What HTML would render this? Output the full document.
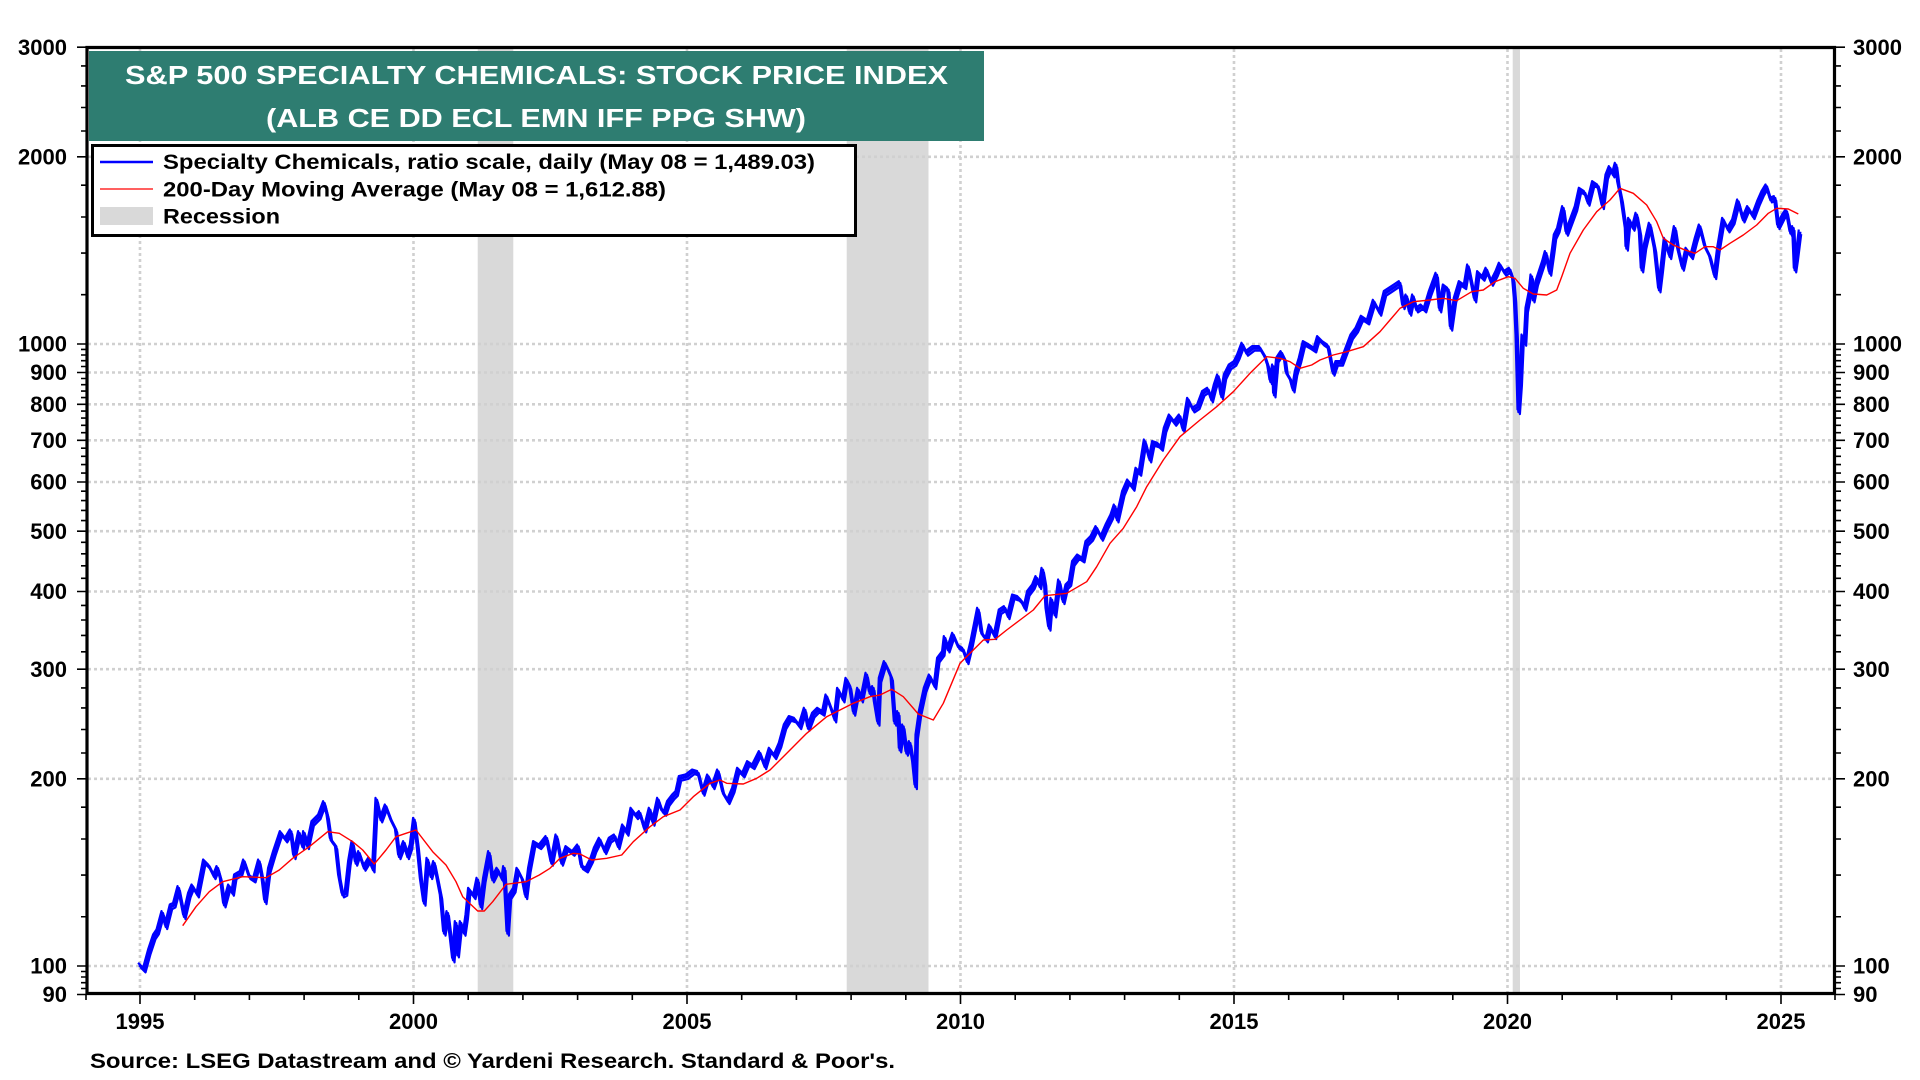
<!DOCTYPE html>
<html><head><meta charset="utf-8"><style>
html,body{margin:0;padding:0;background:#fff;}
svg{display:block;}
text{font-family:"Liberation Sans",Arial,sans-serif;font-weight:bold;}
</style></head><body>
<svg width="1920" height="1080" viewBox="0 0 1920 1080" xmlns="http://www.w3.org/2000/svg">
<rect x="0" y="0" width="1920" height="1080" fill="#fff"/>
<!-- recession bands -->
<g fill="#d9d9d9">
<rect x="477.7" y="48" width="35.6" height="945"/>
<rect x="846.7" y="48" width="81.8" height="945"/>
<rect x="1512.7" y="48" width="7.3" height="945"/>
</g>
<!-- grid -->
<g stroke="#d0d0d0" stroke-width="2.6" stroke-dasharray="3,3" fill="none">
<path d="M88 966H1833M88 778.8H1833M88 669.2H1833M88 591.5H1833M88 531.2H1833M88 482H1833M88 440.3H1833M88 404.3H1833M88 372.5H1833M88 344H1833M88 156.8H1833"/>
<path d="M140 49V992M413.5 49V992M687 49V992M960.5 49V992M1234 49V992M1507.5 49V992M1781 49V992"/>
</g>
<!-- blue series -->
<defs>
<polyline id="blue" fill="none" stroke-linejoin="round" points="139.3,965 144.3,970 149.3,951.7 154.3,936.7 157.7,931.7 162.7,913.3 166,926.7 171,906.7 174.3,905 178.7,888.3 184.3,916.7 189.3,895 192.7,886.7 197.7,895 204.3,861.7 209.3,866.7 214.3,876.7 217.7,868.3 221,880 224.3,905 229.3,886.7 232.7,893.3 235.3,876.7 241,873.3 244.3,861.7 249.3,876.7 254.3,880 259.3,861.7 262.7,880 265.3,901.7 269.3,870 274.3,853.3 281,833.3 286,840 291,831.7 294.3,856.7 299.3,833.3 302.7,846.7 304.3,833.3 307.7,846.7 312.7,823.3 319.3,816.7 324.3,803.3 327.7,816.7 331,840 336,846.7 339.3,876.7 342.7,895 346,893.3 349.3,863.3 352.7,843.3 356,863.3 359.3,853.3 364.3,868.3 369.3,860 373.3,870 376.7,800 381,820 386,806.7 391,820 396,830 399.3,856.7 404.3,843.3 407.7,856.7 411,846.7 414.3,820 417.7,846.7 421,880 424.3,903.3 427.7,860 431,876.7 434.3,863.3 437.7,880 441,896.7 444.3,933.3 447.7,913.3 451,940 453.3,960 456,923.3 457.7,955 461,923.3 464.3,933.3 466.7,916.7 469.3,890 474.3,896.7 477.7,880 481,906.7 484.3,880 489.3,853.3 492.7,880 497.7,870 502.7,880 504.3,868.3 507.7,933.3 510,896.7 514.3,890 517.7,870 522.7,880 526,896.7 529.3,870 534.3,843.3 540,846.7 546.7,838.3 551.7,863.3 556.7,836.7 561.7,863.3 566.7,848.3 573.3,853.3 578.3,846.7 581.7,866.7 586.7,870 591.7,860 595,850 600,840 605,851.7 610,840 615,836.7 618.3,846.7 623.3,826.7 627.3,833.3 631.7,810 636.7,816.7 640,813.3 645,830 650,810 653.3,823.3 658.3,800 661.7,810 665,813.3 668.3,803.3 673.3,796.7 676.7,793.3 680,778.3 686.7,776.7 693.3,771.7 698.3,773.3 703.3,793.3 708.3,776.7 713.3,786.7 718.3,771.7 723.3,793.3 728.3,801.7 733.3,790 738.3,770 743.3,775 748.3,763.3 753.3,766.7 760,753.3 765,766.7 770,750 775,756.7 780,745 785,726.7 790,718.3 795,720 800,726.7 805,710 808.3,728.3 813.3,715 818.3,710 823.3,713.3 826.7,696.7 831.7,710 835,720 838.3,690 843.3,700 846.7,680 850,686.7 854,713.3 858.3,690 861.7,700 866.7,675 870,693.3 873.3,688.3 875,703.3 878.3,723.3 880,680 885,663.3 888.3,670 891.7,678.3 895,723.3 898.3,713.3 900,750 903.3,726.7 906.7,753.3 910,743.3 913.3,763.3 915.7,786.7 916.7,736.7 920,713.3 925,690 930,676.7 935,686.7 938.3,660 943.3,653.3 945,638.3 948.3,650 953.3,635 958.3,646.7 963.3,650 967.3,661.7 971.7,643.3 978.3,610 981.7,633.3 986.7,640 990,626.7 995,636.7 1000,611.7 1005,608.3 1008.3,616.7 1013.3,596.7 1018.3,598.3 1021.7,601.7 1025,608.3 1028.3,593.3 1033.3,586.7 1036.7,578.3 1040,586.7 1042.7,570 1045,583.3 1046.7,610 1049.3,628.3 1051.7,600 1055,615 1059.3,581.7 1063.3,601.7 1066.7,586.7 1070,583.3 1073.3,563.3 1078.3,556.7 1083.3,560 1086.7,543.3 1091.7,538.3 1096.7,528.3 1101.7,538.3 1106.7,526.7 1111.7,516.7 1115,506.7 1117.3,520 1123.3,493.3 1128.3,481.7 1133.3,488.3 1136.7,470 1140,473.3 1145,441.7 1150,460 1153.3,443.3 1158.3,445 1161.7,448.3 1165,430 1170,416.7 1175,423.3 1180,416.7 1183.3,430 1188.3,400 1193.3,410 1198.3,406.7 1203.3,393.3 1208.3,390 1211.7,400 1215,386.7 1218.3,376.7 1221.7,396.7 1225,376.7 1230,366.7 1235,363.3 1238.3,356.7 1242.7,345 1246.7,353.3 1253.3,348.3 1260,348.3 1265,356.7 1268.3,366.7 1270.7,381.7 1273.3,366.7 1274.3,395 1277.3,360 1281.7,353.3 1285,360 1286.7,373.3 1290.7,380 1293.3,390 1296,373.3 1300,360 1304,343.3 1310,346.7 1315,350 1318.3,338.3 1323.3,343.3 1328.3,346.7 1333.3,373.3 1336.7,363.3 1341.7,363.3 1346.7,350 1351.7,336.7 1356.7,330 1362,318 1368,322 1374,302 1380,313.3 1385,293.3 1390,290 1395,286.7 1400,283.3 1403.3,306.7 1406.7,296.7 1410,313.3 1413.3,296.7 1416.7,310 1421.7,306.7 1425,310 1430,293.3 1436.7,275 1440,310 1444,286.7 1448.3,290 1451,328.3 1455,300 1460,283.3 1465,286.7 1468.3,266.7 1471.7,283.3 1475,300 1478.3,273.3 1483.3,278.3 1486.7,270 1491.7,283.3 1496.7,273.3 1500,265 1505,273.3 1510,270 1513.3,280 1515,300 1516.7,336.7 1518.7,411.7 1520.7,383.3 1522.7,336.7 1525,343.3 1526.7,310 1530,293.3 1531.7,276.7 1533.3,300 1536.7,283.3 1540,273.3 1543.3,263.3 1546,253.3 1550,273.3 1553.3,250 1555,236.7 1558.3,230 1563.3,208.3 1566.7,233.3 1571.7,220 1576,208.3 1580,190 1585,193.3 1588.3,203.3 1593.3,183.3 1598.3,186.7 1602.7,206.7 1606.7,176.7 1610,168.3 1613.3,175 1616,165 1618.3,183.3 1621.7,200 1626,230 1626.7,248.3 1629.3,220 1633.3,228.3 1636.7,215 1640,233.3 1642,270 1645,246.7 1650,225 1655,250 1659.3,290 1661.7,270 1665,240 1670,256.7 1675,228.3 1678.3,250 1682.7,268.3 1686.7,250 1691.7,256.7 1696,240 1700,226.7 1705,246.7 1710,256.7 1715,276.7 1718.3,250 1723.3,220 1728.3,230 1733.3,221.7 1738.3,201.7 1743.3,220 1748.3,208.3 1753.3,216.7 1758.3,203.3 1762.7,193.3 1766.7,186.7 1770.7,200 1775,198.3 1778.3,226.7 1783.3,216.7 1786.7,211.7 1790.7,233.3 1793.3,228.3 1795,270 1796.7,258.3 1800,231.7"/>
</defs>
<use href="#blue" stroke="#0000ff" stroke-width="2.2" transform="translate(1.2,2.4)"/>
<use href="#blue" stroke="#0000ff" stroke-width="2.2" transform="translate(-1.2,-2.2)"/>
<use href="#blue" stroke="#0000ff" stroke-width="3"/>
<!-- red MA -->
<polyline fill="none" stroke="#ff0000" stroke-width="1.4" stroke-linejoin="round" points="182.7,925.7 196,906.7 209.3,891.7 222.7,881.7 242.7,876.7 266,877.7 279.3,870 292.7,858.3 309.3,846.7 327.7,831.7 339.3,833.3 352.7,841.7 362.7,850 374.3,864 386,850 396,836.7 406,833.3 416,830 432.7,851.7 446,865 456,881.7 462.7,896.7 477.7,911 484.3,911 492.7,901.7 506,884.3 526,881.7 539.3,875 550,868.3 560,858.3 573.3,853.3 580,854 591.7,860 606.7,858.3 621.7,855 633.3,841.7 650,826.7 663.3,816.7 680,810 693.3,796.7 710,783.3 720,780 726.7,783.3 743.3,784 756.7,778.3 770,770 783.3,756.7 806.7,733.3 826.7,716.7 840,710 853.3,703.3 870,696.7 880,695 891.7,689.3 903.3,696.7 918.3,714 933.3,720 943.3,703.3 960,663.3 983.3,640 995,639.3 1006.7,630 1020,620 1033.3,610 1045,595.7 1066.7,593.3 1086.7,581.7 1096.7,566.7 1110,543.3 1123.3,528.3 1136.7,506.7 1146.7,486.7 1163.3,460 1180,436.7 1200,420 1216.7,406.7 1233.3,391.7 1250,373.3 1266.7,356.7 1280,358.3 1290,361.7 1300,368.3 1311.7,365 1320,360 1333.3,355 1346.7,351.7 1363.3,346.7 1380,331.7 1390,320 1400,308.3 1413.3,301.7 1430,300 1443.3,298.3 1456.7,300.7 1471.7,291.7 1483.3,290 1495,281.7 1508.3,276.7 1515,278.3 1523.3,288.3 1533.3,294 1546.7,295 1556.7,290 1561.7,276.7 1570,253.3 1583.3,230 1596.7,211.7 1610,200 1620,188.3 1633.3,193.3 1646.7,205 1656.7,221.7 1663.3,238.3 1673.3,245 1683.3,249.3 1695,253.3 1705,246.7 1713.3,246.7 1720,250 1730,243.3 1743.3,235 1756.7,225 1768.3,213.3 1776.7,208.3 1788.3,209 1798.3,214"/>
<!-- frame -->
<path d="M87 47.5H1834.5V993.5H87Z" fill="none" stroke="#000" stroke-width="3.2"/>
<!-- y ticks left & right -->
<g stroke="#000" stroke-width="1.6">
<path d="M77 47.2H86M77 156.8H86M77 344H86M77 372.5H86M77 404.3H86M77 440.3H86M77 482H86M77 531.2H86M77 591.5H86M77 669.2H86M77 778.8H86M77 966H86M77 994.5H86"/>
<path d="M1836 47.2H1845M1836 156.8H1845M1836 344H1845M1836 372.5H1845M1836 404.3H1845M1836 440.3H1845M1836 482H1845M1836 531.2H1845M1836 591.5H1845M1836 669.2H1845M1836 778.8H1845M1836 966H1845M1836 994.5H1845"/>
<path d="M81 65.9H86M81 85.9H86M81 107.5H86M81 131H86M81 185.2H86M81 217H86M81 253.1H86M81 294.7H86M81 349.4H86M81 355H86M81 360.7H86M81 366.5H86M81 378.5H86M81 384.7H86M81 391.1H86M81 397.6H86M81 411.1H86M81 418.1H86M81 425.3H86M81 432.7H86M81 448.2H86M81 456.3H86M81 464.6H86M81 473.1H86M81 491.2H86M81 500.6H86M81 510.4H86M81 520.6H86M81 542.3H86M81 553.8H86M81 565.8H86M81 578.3H86M81 605.4H86M81 620H86M81 635.4H86M81 651.8H86M81 687.9H86M81 707.9H86M81 729.5H86M81 753H86M81 807.2H86M81 839H86M81 875.1H86M81 916.75H86M81 971.5H86M81 977H86M81 982.7H86M81 988.5H86"/>
<path d="M1836 65.9H1841M1836 85.9H1841M1836 107.5H1841M1836 131H1841M1836 185.2H1841M1836 217H1841M1836 253.1H1841M1836 294.7H1841M1836 349.4H1841M1836 355H1841M1836 360.7H1841M1836 366.5H1841M1836 378.5H1841M1836 384.7H1841M1836 391.1H1841M1836 397.6H1841M1836 411.1H1841M1836 418.1H1841M1836 425.3H1841M1836 432.7H1841M1836 448.2H1841M1836 456.3H1841M1836 464.6H1841M1836 473.1H1841M1836 491.2H1841M1836 500.6H1841M1836 510.4H1841M1836 520.6H1841M1836 542.3H1841M1836 553.8H1841M1836 565.8H1841M1836 578.3H1841M1836 605.4H1841M1836 620H1841M1836 635.4H1841M1836 651.8H1841M1836 687.9H1841M1836 707.9H1841M1836 729.5H1841M1836 753H1841M1836 807.2H1841M1836 839H1841M1836 875.1H1841M1836 916.75H1841M1836 971.5H1841M1836 977H1841M1836 982.7H1841M1836 988.5H1841"/>
<!-- x ticks -->
<path d="M140 995V1004M413.5 995V1004M687 995V1004M960.5 995V1004M1234 995V1004M1507.5 995V1004M1781 995V1004"/>
<path d="M86 995V1000M194.7 995V1000M249.4 995V1000M304.1 995V1000M358.8 995V1000M468.2 995V1000M522.9 995V1000M577.6 995V1000M632.3 995V1000M741.7 995V1000M796.4 995V1000M851.1 995V1000M905.8 995V1000M1015.2 995V1000M1069.9 995V1000M1124.6 995V1000M1179.3 995V1000M1288.7 995V1000M1343.4 995V1000M1398.1 995V1000M1452.8 995V1000M1562.2 995V1000M1616.9 995V1000M1671.6 995V1000M1726.3 995V1000M1835 995V1000"/>
</g>
<!-- y labels -->
<g font-size="22" fill="#000" text-anchor="end">
<text x="67" y="55">3000</text>
<text x="67" y="164.5">2000</text>
<text x="67" y="351.5">1000</text>
<text x="67" y="380">900</text>
<text x="67" y="412">800</text>
<text x="67" y="448">700</text>
<text x="67" y="489.5">600</text>
<text x="67" y="539">500</text>
<text x="67" y="599">400</text>
<text x="67" y="677">300</text>
<text x="67" y="786.5">200</text>
<text x="67" y="973.5">100</text>
<text x="67" y="1002">90</text>
</g>
<g font-size="22" fill="#000" text-anchor="start">
<text x="1853" y="55">3000</text>
<text x="1853" y="164.5">2000</text>
<text x="1853" y="351.5">1000</text>
<text x="1853" y="380">900</text>
<text x="1853" y="412">800</text>
<text x="1853" y="448">700</text>
<text x="1853" y="489.5">600</text>
<text x="1853" y="539">500</text>
<text x="1853" y="599">400</text>
<text x="1853" y="677">300</text>
<text x="1853" y="786.5">200</text>
<text x="1853" y="973.5">100</text>
<text x="1853" y="1002">90</text>
</g>
<!-- x labels -->
<g font-size="22" fill="#000" text-anchor="middle">
<text x="140" y="1029">1995</text>
<text x="413.5" y="1029">2000</text>
<text x="687" y="1029">2005</text>
<text x="960.5" y="1029">2010</text>
<text x="1234" y="1029">2015</text>
<text x="1507.5" y="1029">2020</text>
<text x="1781" y="1029">2025</text>
</g>
<!-- title box -->
<rect x="89" y="51" width="895" height="90" fill="#2e7d71"/>
<text x="125" y="84" font-size="26" fill="#fff" textLength="823" lengthAdjust="spacingAndGlyphs">S&amp;P 500 SPECIALTY CHEMICALS: STOCK PRICE INDEX</text>
<text x="266" y="127" font-size="26" fill="#fff" textLength="540" lengthAdjust="spacingAndGlyphs">(ALB CE DD ECL EMN IFF PPG SHW)</text>
<!-- legend -->
<rect x="92.5" y="145.5" width="763" height="90" fill="#fff" stroke="#000" stroke-width="3"/>
<line x1="100" y1="162" x2="153" y2="162" stroke="#0000ff" stroke-width="2.5"/>
<line x1="100" y1="189" x2="153" y2="189" stroke="#ff0000" stroke-width="1.2"/>
<rect x="100" y="207" width="53" height="18" fill="#d9d9d9"/>
<g font-size="21.5" fill="#000">
<text x="163" y="169" textLength="652" lengthAdjust="spacingAndGlyphs">Specialty Chemicals, ratio scale, daily (May 08 = 1,489.03)</text>
<text x="163" y="196.5" textLength="503" lengthAdjust="spacingAndGlyphs">200-Day Moving Average (May 08 = 1,612.88)</text>
<text x="163" y="223.5" textLength="117" lengthAdjust="spacingAndGlyphs">Recession</text>
</g>
<!-- source -->
<text x="90" y="1068" font-size="21" fill="#000" textLength="805" lengthAdjust="spacingAndGlyphs">Source: LSEG Datastream and © Yardeni Research. Standard &amp; Poor's.</text>
</svg>
</body></html>
